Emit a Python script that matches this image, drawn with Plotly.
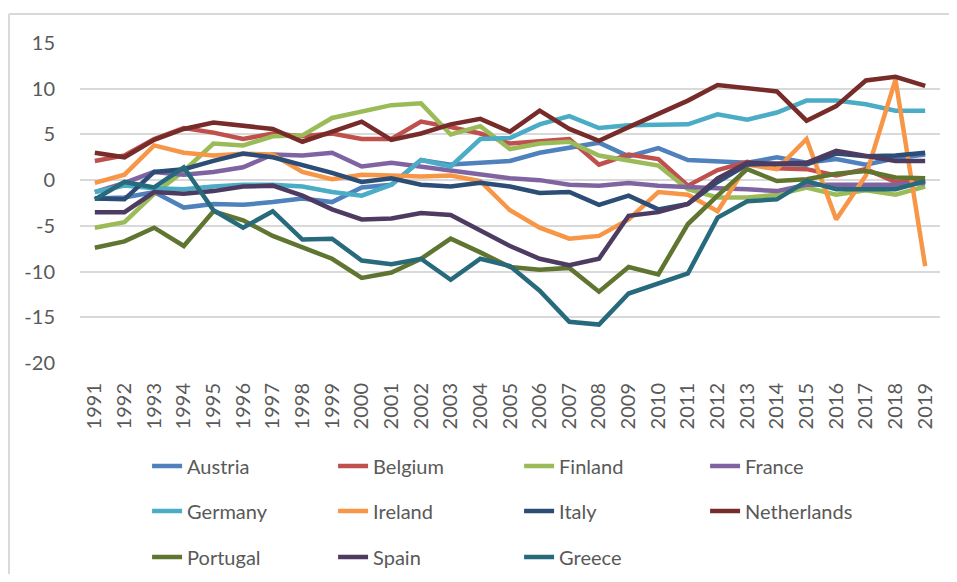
import plotly.graph_objects as go

years = list(range(1991, 2020))

austria = [-2.0, -1.9, -1.3, -3.0, -2.6, -2.7, -2.4, -2.0, -2.4, -0.8, -0.5, 2.2, 1.7, 1.9, 2.1, 3.0, 3.6, 4.1, 2.6, 3.5, 2.2, 2.0, 1.9, 2.5, 1.9, 2.3, 1.7, 2.4, 2.8]
belgium = [2.1, 2.7, 4.5, 5.7, 5.2, 4.5, 5.1, 4.8, 5.1, 4.5, 4.5, 6.4, 5.8, 5.1, 4.0, 4.3, 4.5, 1.7, 2.8, 2.3, -0.6, 1.1, 2.0, 1.3, 1.2, 0.5, 1.2, -0.2, -0.2]
finland = [-5.2, -4.6, -1.5, 1.0, 4.0, 3.8, 4.8, 4.9, 6.8, 7.5, 8.2, 8.4, 5.0, 5.9, 3.4, 4.0, 4.2, 2.7, 2.1, 1.6, -1.0, -1.9, -1.9, -1.6, -0.8, -1.6, -1.1, -1.6, -0.7]
france = [-1.3, -0.3, 0.9, 0.6, 0.9, 1.4, 2.8, 2.7, 3.0, 1.5, 1.9, 1.5, 1.0, 0.6, 0.2, 0.0, -0.5, -0.6, -0.3, -0.6, -0.8, -0.9, -1.0, -1.2, -0.5, -0.5, -0.5, -0.5, -0.3]
germany = [-1.3, -0.6, -0.9, -1.0, -0.7, -0.5, -0.5, -0.7, -1.3, -1.7, -0.5, 2.2, 1.5, 4.5, 4.6, 6.1, 7.0, 5.7, 6.0, 6.0, 6.1, 7.2, 6.6, 7.4, 8.7, 8.7, 8.3, 7.6, 7.6]
ireland = [-0.3, 0.6, 3.8, 3.0, 2.7, 2.9, 2.8, 0.9, 0.1, 0.6, 0.5, 0.4, 0.5, -0.1, -3.3, -5.2, -6.4, -6.1, -4.3, -1.3, -1.6, -3.4, 1.7, 1.2, 4.5, -4.3, 0.5, 11.0, -9.4]
italy = [-2.0, -2.1, 0.9, 1.2, 2.1, 2.9, 2.5, 1.7, 0.8, -0.2, 0.2, -0.5, -0.7, -0.3, -0.7, -1.4, -1.3, -2.7, -1.7, -3.2, -2.6, -0.2, 1.7, 1.8, 1.7, 2.9, 2.6, 2.7, 3.0]
netherlands = [3.0, 2.5, 4.4, 5.6, 6.3, 5.9, 5.6, 4.2, 5.3, 6.4, 4.4, 5.1, 6.1, 6.7, 5.3, 7.6, 5.6, 4.3, 5.8, 7.2, 8.7, 10.4, 10.1, 9.7, 6.5, 8.1, 10.9, 11.3, 10.3]
portugal = [-7.4, -6.7, -5.2, -7.2, -3.4, -4.4, -6.1, -7.4, -8.6, -10.7, -10.1, -8.6, -6.4, -7.9, -9.5, -9.8, -9.6, -12.2, -9.5, -10.3, -4.8, -1.7, 1.2, -0.1, 0.1, 0.7, 1.0, 0.3, 0.2]
spain = [-3.5, -3.5, -1.3, -1.5, -1.2, -0.7, -0.6, -1.7, -3.2, -4.3, -4.2, -3.6, -3.8, -5.5, -7.2, -8.6, -9.3, -8.6, -3.9, -3.5, -2.6, 0.2, 1.9, 1.8, 1.9, 3.2, 2.6, 2.1, 2.1]
greece = [-2.1, -0.2, -0.8, 1.4, -3.3, -5.2, -3.4, -6.5, -6.4, -8.8, -9.2, -8.6, -10.9, -8.6, -9.4, -12.1, -15.5, -15.8, -12.4, -11.3, -10.2, -4.1, -2.3, -2.1, -0.1, -1.0, -1.0, -1.0, -0.1]

series = [
    ("Austria", austria, "#4F81BD", "legend"),
    ("Belgium", belgium, "#C0504D", "legend"),
    ("Finland", finland, "#9BBB59", "legend"),
    ("France", france, "#8064A2", "legend"),
    ("Germany", germany, "#4BACC6", "legend2"),
    ("Ireland", ireland, "#F79646", "legend2"),
    ("Italy", italy, "#2C4D75", "legend2"),
    ("Netherlands", netherlands, "#772C2A", "legend2"),
    ("Portugal", portugal, "#5F7530", "legend3"),
    ("Spain", spain, "#4D3B62", "legend3"),
    ("Greece", greece, "#276A7C", "legend3"),
]

y_ticks = [15, 10, 5, 0, -5, -10, -15, -20]
y_ticktext = ["15", "10", "5", "0", "-5", "-10", "-15", "-20"]

fig = go.Figure()
for name, vals, color, lg in series:
    fig.add_trace(go.Scatter(x=years, y=vals, mode="lines", name=name,
                             line=dict(color=color, width=4.5), legend=lg))

FONT = "Lato, 'Open Sans', sans-serif"
TXT = "#595959"

def leg(y):
    return dict(orientation="h", x=0.078, xanchor="left", y=y, yanchor="middle",
                entrywidth=141, entrywidthmode="pixels", bgcolor="rgba(0,0,0,0)",
                font=dict(family=FONT, size=20, color=TXT), traceorder="normal")

# page has an 8px body margin, so the figure is sized to fit inside it
fig.update_layout(
    width=941, height=566,
    margin=dict(l=72, r=9, t=35, b=211, autoexpand=False),
    paper_bgcolor="white", plot_bgcolor="white",
    font=dict(family=FONT, size=20, color=TXT),
    showlegend=True,
    legend=leg(-0.322),
    legend2=leg(-0.4625),
    legend3=leg(-0.606),
    xaxis=dict(range=[1990.5, 2019.5], tickmode="array", tickvals=years,
               ticktext=[str(y) for y in years], tickangle=-90,
               showgrid=False, zeroline=False, showline=False, ticks="",
               ticklabelstandoff=15, tickfont=dict(size=20, color=TXT)),
    yaxis=dict(range=[-20, 15], tickmode="array", tickvals=y_ticks, ticktext=y_ticktext,
               showgrid=True, gridcolor="#D9D9D9", gridwidth=1.5,
               zeroline=False, showline=False, ticks="",
               ticklabelstandoff=24, tickfont=dict(size=20, color=TXT)),
    shapes=[
        dict(type="line", xref="paper", yref="paper", x0=-0.0826, x1=1.03, y0=1.0906, y1=1.0906,
             line=dict(color="#D9D9D9", width=2)),
        dict(type="line", xref="paper", yref="paper", x0=-0.0826, x1=-0.0826, y0=1.0906, y1=-0.72,
             line=dict(color="#D9D9D9", width=2)),
    ],
)

fig.write_html("out.html")
